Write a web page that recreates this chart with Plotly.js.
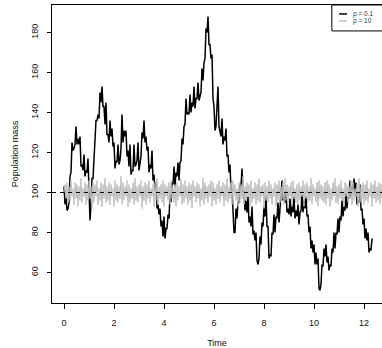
<!DOCTYPE html>
<html><head><meta charset="utf-8">
<script src="https://cdn.plot.ly/plotly-3.0.1.min.js"></script>
<style>html,body{margin:0;padding:0;background:#fff}#chart{width:382px;height:348px}</style>
</head><body><div id="chart"></div>
<script>
// sampling interval of the traces (time units)
const dt = 0.04;
// rho = 0.1 trace
const rho01 = [103,94,98,91,92,95,108,110,125,121,
122,124,133,124,127,124,128,113,114,111,
119,108,111,110,117,94,86,94,107,107,
117,121,136,136,139,137,150,145,153,143,
143,134,145,129,129,125,136,128,132,123,
125,112,116,115,124,114,116,122,139,125,
131,128,131,118,121,113,124,109,111,111,
124,113,114,116,125,111,115,118,130,127,
136,125,128,121,123,110,114,112,121,106,
109,101,105,92,94,89,92,83,86,78,
88,77,82,82,89,87,99,95,105,104,
113,103,110,108,115,106,115,116,127,124,
133,134,147,139,140,139,149,140,145,143,
153,142,147,147,155,146,148,150,162,156,
165,167,182,180,188,174,174,167,169,147,
143,131,133,142,153,133,130,128,137,124,
128,126,132,118,119,110,114,101,102,86,
80,80,92,87,95,95,104,103,112,100,
101,91,96,90,98,85,88,83,93,79,
81,76,80,66,64,67,78,74,85,83,
93,88,98,83,83,67,69,68,80,79,
89,80,88,87,95,85,92,95,106,96,
99,95,101,90,92,89,97,88,94,90,
98,87,91,88,94,84,90,91,99,90,
96,92,98,88,89,80,83,72,76,70,
74,64,70,64,67,52,51,54,64,63,
72,68,74,65,68,61,64,63,72,70,
80,72,80,79,87,80,88,86,96,88,
93,91,100,92,98,97,106,98,103,101,
107,99,105,94,96,95,104,91,92,84,
87,77,82,76,80,70,72,71,77];
// rho = 10 trace
const rho10 = [100,104,97,105,95,103,96,106,98,102,94,105,97,104,93,103,96,107,95,102,
98,105,94,104,96,106,97,103,92,105,95,104,98,106,94,102,96,105,93,104,
97,107,95,103,96,105,94,104,98,102,93,106,96,104,95,103,97,108,94,105,
96,103,98,106,93,104,95,102,97,105,94,107,96,103,95,104,98,106,92,103,
96,105,94,104,97,106,95,102,98,104,93,105,96,107,94,103,97,104,95,106,
93,104,98,103,96,105,94,106,97,102,95,104,93,105,96,103,98,107,94,104,
95,106,97,103,94,105,96,104,92,106,98,103,95,105,97,104,93,102,96,107,
94,105,97,103,95,104,98,106,93,105,96,102,94,104,97,106,95,103,98,105,
93,104,96,107,95,103,97,105,94,106,98,104,96,102,93,105,95,104,97,108,
94,103,96,105,98,104,93,106,95,102,97,105,94,104,96,107,95,103,98,104,
92,105,96,103,95,106,97,104,94,102,98,105,93,104,96,106,95,103,97,105,
94,107,96,104,95,103,98,105,93,106,97,102,95,104,94,105,96,103,98,106,
93,104,97,105,95,103,96,107,94,104,98,102,95,105,93,106,97,104,96,103,
95,105,94,106,97,104,93,102,96,105,98,107,95,103,94,104,97,106,96,102,
93,105,98,104,95,103,97,106,94,105,96,102,98,104,93,107,95,103,97,105,
94,104,96,106,95,102,98,105,93,104,97,106,95,103,96,105,94,104,97];
const seriesNames = ['\u03c1 = 0.1', '\u03c1 = 10'];
const seriesColors = ['#000000', '#bebebe'];
const refLevel = 100;
const xTicks = [0, 2, 4, 6, 8, 10, 12];
const yTicks = [60, 80, 100, 120, 140, 160, 180];

function times(n) { const t = []; for (let i = 0; i < n; i++) t.push(+(i * dt).toFixed(2)); return t; }

const FONT = 'Liberation Sans, Arial, Helvetica, sans-serif';
const widths = [1.5, 1.0];
const traces = [rho01, rho10].map((v, k) => ({
  x: times(v.length), y: v, type: 'scatter', mode: 'lines', name: seriesNames[k],
  line: { color: seriesColors[k], width: widths[k] }, showlegend: false, hoverinfo: 'skip'
}));

// legend drawn in paper coordinates
const lg = { x0: 0.848, x1: 1.01, y0: 0.913, y1: 1.0, lx0: 0.870, lx1: 0.894, tx: 0.905, ys: [0.970, 0.946] };
const shapes = [
  { type: 'line', xref: 'paper', x0: 0, x1: 1, yref: 'y', y0: refLevel, y1: refLevel,
    line: { color: '#000', width: 1, dash: '4px,4px' }, layer: 'above' },
  { type: 'rect', xref: 'paper', yref: 'paper', x0: lg.x0, x1: lg.x1, y0: lg.y0, y1: lg.y1,
    line: { color: '#000', width: 1 }, fillcolor: '#fff', layer: 'above' }
];
const annotations = [];
seriesNames.forEach((nm, k) => {
  shapes.push({ type: 'line', xref: 'paper', yref: 'paper', x0: lg.lx0, x1: lg.lx1, y0: lg.ys[k], y1: lg.ys[k],
    line: { color: seriesColors[k], width: 1.5 }, layer: 'above' });
  annotations.push({ xref: 'paper', yref: 'paper', x: lg.tx, y: lg.ys[k], xanchor: 'left', yanchor: 'middle',
    text: nm, showarrow: false, font: { family: FONT, size: 6.5, color: '#333' } });
});

const layout = {
  width: 382, height: 348, margin: { l: 52, r: 0, t: 5, b: 45 },
  paper_bgcolor: '#fff', plot_bgcolor: '#fff',
  font: { family: FONT, size: 9, color: '#111' },
  showlegend: false,
  xaxis: { range: [-0.48, 12.72], tickvals: xTicks, ticktext: xTicks.map(String), ticks: 'outside', ticklen: 5,
    tickcolor: '#000', showline: true, mirror: true, linecolor: '#000', linewidth: 1, showgrid: false, zeroline: false,
    ticklabelstandoff: 6, tickfont: { size: 9 }, title: { text: 'Time', font: { size: 9 }, standoff: 13 } },
  yaxis: { range: [44.75, 193.75], tickvals: yTicks, ticktext: yTicks.map(String), ticks: 'outside', ticklen: 4,
    tickcolor: '#000', showline: true, mirror: true, linecolor: '#000', linewidth: 1, showgrid: false, zeroline: false,
    tickangle: -90, ticklabelstandoff: 5, tickfont: { size: 9 }, title: { text: 'Population mass', font: { size: 9 }, standoff: 10 } },
  shapes: shapes, annotations: annotations
};
Plotly.newPlot('chart', traces, layout, { staticPlot: true, displayModeBar: false });
</script></body></html>
